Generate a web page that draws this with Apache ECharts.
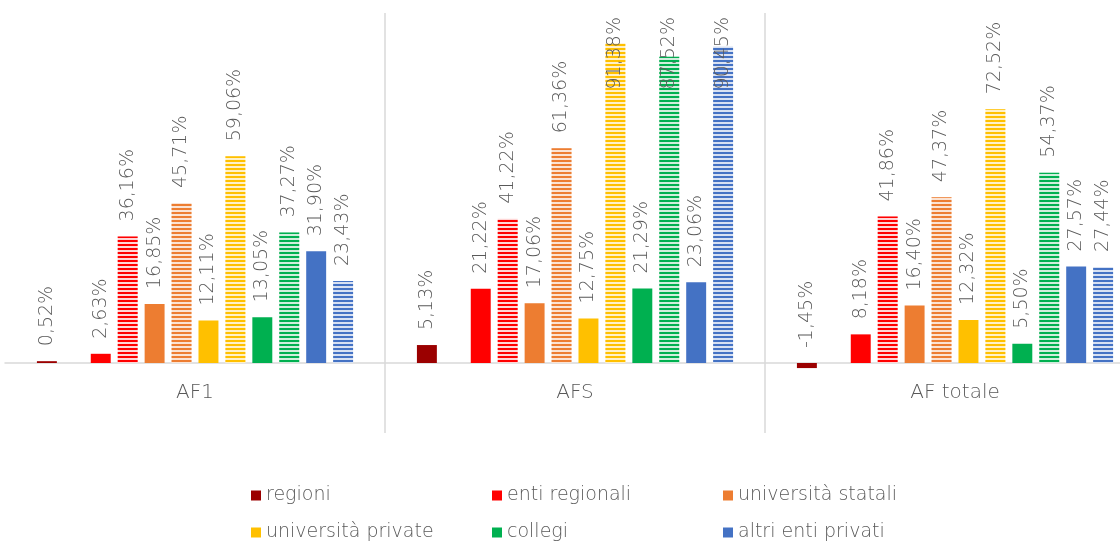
<!DOCTYPE html>
<html>
<head>
<meta charset="utf-8">
<title>Variazioni percentuali per tipologia di ente</title>
<script src="https://cdn.jsdelivr.net/npm/echarts@6/dist/echarts.min.js"></script>
<style>
  html, body { margin: 0; padding: 0; background: #ffffff; }
  #chart { width: 1120px; height: 543px; }
</style>
</head>
<body>
<div id="chart"></div>
<script>
// Categories on the x axis
const categories = ['AF1', 'AFS', 'AF totale'];

// Group names (legend entries)
const groups = ['regioni', 'enti regionali', 'università statali', 'università private', 'collegi', 'altri enti privati'];

// Values in percent: first bar of each pair is solid, second is hatched
const regioniSolid = [0.52, 5.13, -1.45];
const regioniHatched = [null, null, null];
const entiRegionaliSolid = [2.63, 21.22, 8.18];
const entiRegionaliHatched = [36.16, 41.22, 41.86];
const universitaStataliSolid = [16.85, 17.06, 16.40];
const universitaStataliHatched = [45.71, 61.36, 47.37];
const universitaPrivateSolid = [12.11, 12.75, 12.32];
const universitaPrivateHatched = [59.06, 91.38, 72.52];
const collegiSolid = [13.05, 21.29, 5.50];
const collegiHatched = [37.27, 87.52, 54.37];
const altriEntiPrivatiSolid = [31.90, 23.06, 27.57];
const altriEntiPrivatiHatched = [23.43, 90.45, 27.44];

const solidValues = [regioniSolid, entiRegionaliSolid, universitaStataliSolid,
  universitaPrivateSolid, collegiSolid, altriEntiPrivatiSolid];
const hatchedValues = [regioniHatched, entiRegionaliHatched, universitaStataliHatched,
  universitaPrivateHatched, collegiHatched, altriEntiPrivatiHatched];

const palette = ['#9b0000', '#ff0000', '#ed7d31', '#ffc000', '#00b050', '#4472c4'];
const tints = ['#ead0d0', '#ffd6d6', '#fbe3d3', '#fff1c8', '#cfeedc', '#d8e1f2'];

const FONT = 'DejaVu Sans';
const WEIGHT = 200;
const TEXT = '#595959';
const PLOT_TOP = 13;
const LABEL_DIST = 15;

function fmt(p) {
  if (p.value == null) return '';
  return p.value.toFixed(2).replace('.', ',') + '%';
}

const labelCfg = {
  show: true,
  position: 'top',
  rotate: 90,
  align: 'left',
  verticalAlign: 'middle',
  distance: LABEL_DIST,
  formatter: fmt,
  fontFamily: FONT,
  fontWeight: WEIGHT,
  fontSize: 19,
  color: TEXT
};

// Labels that would run past the top of the plot are hung from its top edge
function keepInside(p) {
  const minY = PLOT_TOP + 4;
  const len = Math.max(p.labelRect.width, p.labelRect.height);
  if (p.rect.y - LABEL_DIST - len < minY) {
    return { x: p.rect.x + p.rect.width / 2, y: minY, align: 'right', verticalAlign: 'middle' };
  }
  return {};
}

const series = [];
groups.forEach((name, i) => {
  series.push({
    name: name,
    type: 'bar',
    data: solidValues[i],
    itemStyle: { color: palette[i] },
    label: labelCfg,
    labelLayout: keepInside
  });
  series.push({
    name: name + ' (b)',
    type: 'bar',
    data: hatchedValues[i],
    itemStyle: {
      color: tints[i],
      decal: {
        symbol: 'rect',
        symbolSize: 1,
        color: palette[i],
        dashArrayX: [8, 0],
        dashArrayY: [2, 2],
        rotation: 0
      }
    },
    label: labelCfg,
    labelLayout: keepInside
  });
});

// Legend: three columns, two rows
const legendCols = [246, 487, 718];
const legendRows = [481, 518];
const legendOrder = [[0, 3], [1, 4], [2, 5]];
const legends = [];
legendOrder.forEach((col, c) => {
  col.forEach((g, r) => {
    legends.push({
      left: legendCols[c],
      top: legendRows[r],
      icon: 'rect',
      itemWidth: 10,
      itemHeight: 10,
      selectedMode: false,
      data: [groups[g]],
      textStyle: { fontFamily: FONT, fontWeight: WEIGHT, fontSize: 19, color: TEXT }
    });
  });
});

const option = {
  animation: false,
  backgroundColor: '#ffffff',
  color: palette,
  // the plot runs slightly past the right edge of the canvas
  grid: { left: 5, width: 1140, top: PLOT_TOP, bottom: 110, containLabel: false, outerBoundsMode: 'none' },
  legend: legends,
  xAxis: {
    type: 'category',
    data: categories,
    axisTick: { show: false },
    axisLine: { show: true, onZero: true, lineStyle: { color: '#d9d9d9', width: 1.5 } },
    axisLabel: { fontFamily: FONT, fontWeight: WEIGHT, fontSize: 20, color: TEXT, margin: -50 },
    splitLine: {
      show: true,
      lineStyle: { color: ['rgba(0,0,0,0)', '#d9d9d9', '#d9d9d9', 'rgba(0,0,0,0)'], width: 1.5 }
    }
  },
  yAxis: {
    type: 'value',
    min: -20,
    max: 100,
    show: false,
    splitLine: { show: false }
  },
  series: series.map(s => Object.assign(s, { barGap: '35%', barCategoryGap: '16.8%' }))
};

const chart = echarts.init(document.getElementById('chart'), null, { renderer: 'canvas' });
chart.setOption(option);
</script>
</body>
</html>
